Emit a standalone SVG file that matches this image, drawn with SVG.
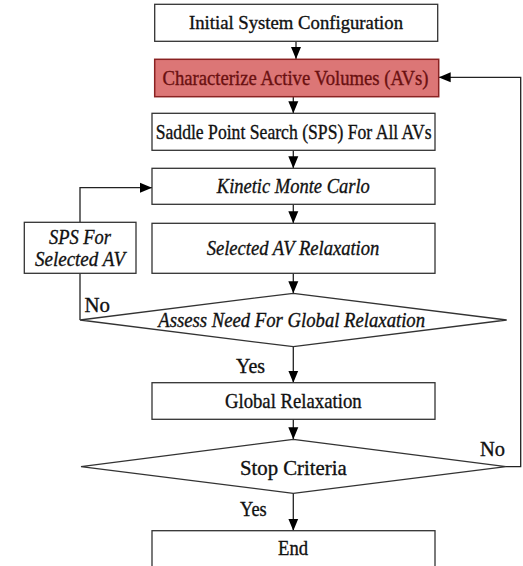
<svg xmlns="http://www.w3.org/2000/svg" width="523" height="566" viewBox="0 0 523 566">
<defs>
<style>
.box{fill:#fff;stroke:#333;stroke-width:1.3}
.red{fill:#dc7676;stroke:#8a2222;stroke-width:1.5}
text{font-family:'Liberation Serif','Times New Roman',serif;font-size:21px;fill:#111;stroke:#111;stroke-width:0.35}
.t{text-anchor:middle}
.i{font-style:italic}
.c{fill:none;stroke:#222;stroke-width:1.3}
</style>
<marker id="ah" markerUnits="userSpaceOnUse" markerWidth="12" markerHeight="12" viewBox="0 0 12 12" refX="12" refY="6" orient="auto">
<path d="M0,1 L12,6 L0,11 Z" fill="#000"/>
</marker>
</defs>
<g id="connectors">
<line class="c" x1="296" y1="41.3" x2="296" y2="59" marker-end="url(#ah)"/>
<line class="c" x1="293.3" y1="96.7" x2="293.3" y2="113.3" marker-end="url(#ah)"/>
<line class="c" x1="293.3" y1="150.3" x2="293.3" y2="168.3" marker-end="url(#ah)"/>
<line class="c" x1="293.3" y1="204.3" x2="293.3" y2="223.3" marker-end="url(#ah)"/>
<line class="c" x1="293.3" y1="273.3" x2="293.3" y2="293.3" marker-end="url(#ah)"/>
<polyline class="c" points="80,320 80,273.3"/>
<polyline class="c" points="80,222.3 80,187.7 152,187.7" marker-end="url(#ah)"/>
<line class="c" x1="293.3" y1="346.7" x2="293.3" y2="382.7" marker-end="url(#ah)"/>
<line class="c" x1="293.3" y1="419.3" x2="293.3" y2="439.3" marker-end="url(#ah)"/>
<line class="c" x1="293.3" y1="493.3" x2="293.3" y2="530.7" marker-end="url(#ah)"/>
<polyline class="c" points="506,466.7 520.7,466.7 520.7,77.3 438.7,77.3" marker-end="url(#ah)"/>
<text x="84.5" y="311.7" textLength="25.5" lengthAdjust="spacingAndGlyphs">No</text>
<text x="236" y="373" textLength="29" lengthAdjust="spacingAndGlyphs">Yes</text>
<text x="480" y="456" textLength="25" lengthAdjust="spacingAndGlyphs">No</text>
<text x="240" y="515.7" textLength="26.7" lengthAdjust="spacingAndGlyphs">Yes</text>
</g>
<g id="initial">
<rect class="box" x="154.7" y="4.3" width="283" height="37"/>
<text class="t" x="296" y="29.3" style="font-size:19px" textLength="214" lengthAdjust="spacingAndGlyphs">Initial System Configuration</text>
</g>
<g id="characterize">
<rect class="red" x="154.7" y="59.3" width="284" height="37.4"/>
<text class="t" x="295.5" y="85" style="fill:#6a1010;stroke:#6a1010" textLength="266" lengthAdjust="spacingAndGlyphs">Characterize Active Volumes (AVs)</text>
</g>
<g id="sps-all">
<rect class="box" x="152" y="113.3" width="283" height="37"/>
<text class="t" x="293.7" y="138.5" textLength="276" lengthAdjust="spacingAndGlyphs">Saddle Point Search (SPS) For All AVs</text>
</g>
<g id="kmc">
<rect class="box" x="152" y="168.3" width="283" height="36"/>
<text class="t i" x="293.3" y="193.3" textLength="153" lengthAdjust="spacingAndGlyphs">Kinetic Monte Carlo</text>
</g>
<g id="selected-relax">
<rect class="box" x="152" y="223.3" width="283" height="50"/>
<text class="t i" x="293" y="255" textLength="172.7" lengthAdjust="spacingAndGlyphs">Selected AV Relaxation</text>
</g>
<g id="sps-selected">
<rect class="box" x="24.3" y="222.3" width="111.7" height="51"/>
<text class="t i" x="80" y="244" textLength="62" lengthAdjust="spacingAndGlyphs">SPS For</text>
<text class="t i" x="80" y="265.7" textLength="90" lengthAdjust="spacingAndGlyphs">Selected AV</text>
</g>
<g id="assess">
<polygon class="box" points="293.3,293.3 506.7,320 293.3,346.7 80,320"/>
<text class="t i" x="291.7" y="326.7" style="font-size:20px" textLength="266.7" lengthAdjust="spacingAndGlyphs">Assess Need For Global Relaxation</text>
</g>
<g id="global-relax">
<rect class="box" x="152" y="382.7" width="283" height="36.6"/>
<text class="t" x="293.3" y="408.3" textLength="136.7" lengthAdjust="spacingAndGlyphs">Global Relaxation</text>
</g>
<g id="stop">
<polygon class="box" points="293.3,439.3 506,466.7 293.3,493.3 81,466.7"/>
<text class="t" x="293.3" y="474.5" textLength="106.7" lengthAdjust="spacingAndGlyphs">Stop Criteria</text>
</g>
<g id="end">
<rect class="box" x="152" y="530.7" width="283" height="40"/>
<text class="t" x="293" y="555" textLength="30" lengthAdjust="spacingAndGlyphs">End</text>
</g>
</svg>
